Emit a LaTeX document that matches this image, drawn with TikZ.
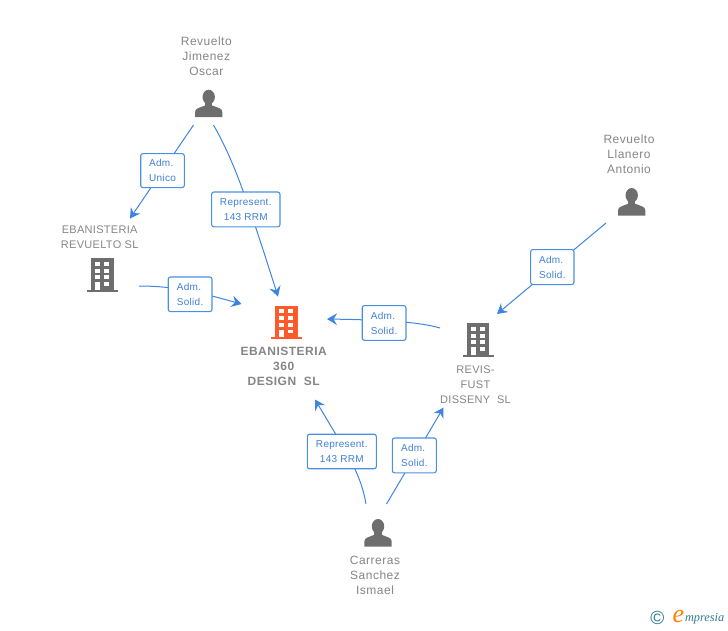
\documentclass[tikz,border=0pt]{standalone}
\usepackage{fontspec}
\usetikzlibrary{arrows.meta}
\setmainfont{Liberation Sans}
\newfontfamily\pfont[LetterSpace=4.2]{Liberation Sans}
\newfontfamily\cfont[LetterSpace=2.7]{Liberation Sans}
\newfontfamily\bfontx[LetterSpace=4.2]{Liberation Sans Bold}
\newfontfamily\lfont[LetterSpace=3]{Liberation Sans}
\newfontfamily\ifontx{Liberation Serif Italic}
\definecolor{linkblue}{HTML}{3D85E0}
\definecolor{boxblue}{HTML}{4A90E2}
\definecolor{labelblue}{HTML}{3F7FD8}
\definecolor{icongrey}{HTML}{6E6E6E}
\definecolor{txtgrey}{HTML}{858585}
\definecolor{orangeb}{HTML}{FF5A2B}
\definecolor{tealc}{HTML}{2F7C92}
\tikzset{
  link/.style={draw=linkblue,line width=1pt,-{Stealth[length=10pt,width=11.5pt,inset=3.5pt]}},
  linkbox/.style={draw=boxblue,line width=1.1pt,fill=white,rounded corners=2.2pt,inner sep=0pt,text=labelblue,
     font=\lfont\fontsize{10}{15}\selectfont},
  pname/.style={text=txtgrey,align=center,inner sep=0pt,font=\pfont\fontsize{12}{15}\selectfont},
  cname/.style={text=txtgrey,align=center,inner sep=0pt,font=\cfont\fontsize{11}{15}\selectfont},
  bname/.style={text=txtgrey,align=center,inner sep=0pt,font=\bfontx\fontsize{12}{15}\selectfont},
  pics/personicon/.style={code={
    \fill[icongrey] (0,7) ellipse[x radius=6.2,y radius=7.3];
    \fill[icongrey] (-3.6,11) rectangle (3.6,17);
    \fill[icongrey] (-13.6,27.2) -- (-13.6,22) .. controls (-13.6,18.5) and (-10,18) .. (-3.6,15.5) -- (3.6,15.5) .. controls (10,18) and (13.6,18.5) .. (13.6,22) -- (13.6,27.2) -- cycle;
  }},
  pics/buildicon/.style={code={
    \fill[#1] (-11.3,0) rectangle (11.3,31.5);
    \fill[#1] (-15.5,31.2) rectangle (15.5,33.4);
    \foreach \wx in {-7.2,2.1} \foreach \wy/\wh in {3.3/4,10.3/4,17/4}
      \fill[white] (\wx,\wy) rectangle ++(5,\wh);
    \fill[white] (2.1,23.8) rectangle ++(5,3.7);
    \fill[white] (-7.2,23.8) rectangle ++(5,7.4);
  }},
}
\begin{document}
\begin{tikzpicture}[x=1pt,y=-1pt]
\useasboundingbox (0,0) rectangle (728,630);
% free ends
\coordinate (a1) at (193.5,125); \coordinate (a2) at (130,218.5);
\coordinate (b1) at (213.5,125); \coordinate (b2) at (278,296.5);
\coordinate (c1) at (139,286);   \coordinate (c2) at (241.5,304);
\coordinate (d1) at (440,328);   \coordinate (d2) at (327,319);
\coordinate (e1) at (606,223);   \coordinate (e2) at (497,314);
\coordinate (f1) at (366,504);   \coordinate (f2) at (315,399.5);
\coordinate (g1) at (386.5,504); \coordinate (g2) at (443.5,407.5);
% connectors
\draw[link] (a1) -- (a2);
\draw[link] (b1) .. controls (232,158) and (243,186) .. (b2);
\draw[link] (c1) .. controls (178,286) and (205,294) .. (c2);
\draw[link] (d1) .. controls (420,322) and (385,320) .. (d2);
\draw[link] (e1) -- (e2);
\draw[link] (f1) .. controls (361,475) and (350,458) .. (f2);
\draw[link] (g1) -- (g2);
% link labels
\node[linkbox,minimum width=43.6pt,minimum height=34pt,align=left] (l1) at (162.5,170.6) {Adm.\\Unico};
\node[linkbox,minimum width=68.3pt,minimum height=34.8pt,align=center] (l2) at (245.8,209.4) {Represent.\\143 RRM};
\node[linkbox,minimum width=43.7pt,minimum height=34.6pt,align=left] (l3) at (190.1,294.3) {Adm.\\Solid.};
\node[linkbox,minimum width=43.7pt,minimum height=34.7pt,align=left] (l4) at (384.1,323) {Adm.\\Solid.};
\node[linkbox,minimum width=43.3pt,minimum height=35pt,align=left] (l5) at (552.3,267.1) {Adm.\\Solid.};
\node[linkbox,minimum width=69pt,minimum height=34.5pt,align=center] (l6) at (341.8,451.5) {Represent.\\143 RRM};
\node[linkbox,minimum width=44pt,minimum height=34.8pt,align=left] (l7) at (414.3,455.4) {Adm.\\Solid.};
% icons
\pic at (208.7,90) {personicon};
\pic at (631.7,188.3) {personicon};
\pic at (378,519.3) {personicon};
\pic at (102.2,258.3) {buildicon=icongrey};
\pic at (286.2,305.7) {buildicon=orangeb};
\pic at (478,323.3) {buildicon=icongrey};
% names
\node[pname] (n1) at (206.3,56.4) {Revuelto\\Jimenez\\Oscar};
\node[pname] (n2) at (629,154) {Revuelto\\Llanero\\Antonio};
\node[pname] (n3) at (375,575.3) {Carreras\\Sanchez\\Ismael};
\node[cname] (n4) at (99.7,237.2) {EBANISTERIA\\REVUELTO SL};
\node[cname] (n5) at (475.5,384.6) {REVIS-\\FUST\\DISSENY\ \ SL};
\node[bname] (n6) at (283.7,366.3) {EBANISTERIA\\360\\DESIGN\ \ SL};
% logo
\node[text=tealc,inner sep=0pt,font=\fontsize{19}{19}\selectfont] (m1) at (657.3,618.4) {©};
\node[text=orange,inner sep=0pt,font=\ifontx\fontsize{26}{26}\selectfont] (m2) at (678.5,616.5) {e};
\node[text=tealc,inner sep=0pt,font=\ifontx\fontsize{12.3}{12.3}\selectfont,anchor=west] (m3) at (684.8,619) {mpresia};
\end{tikzpicture}
\end{document}
